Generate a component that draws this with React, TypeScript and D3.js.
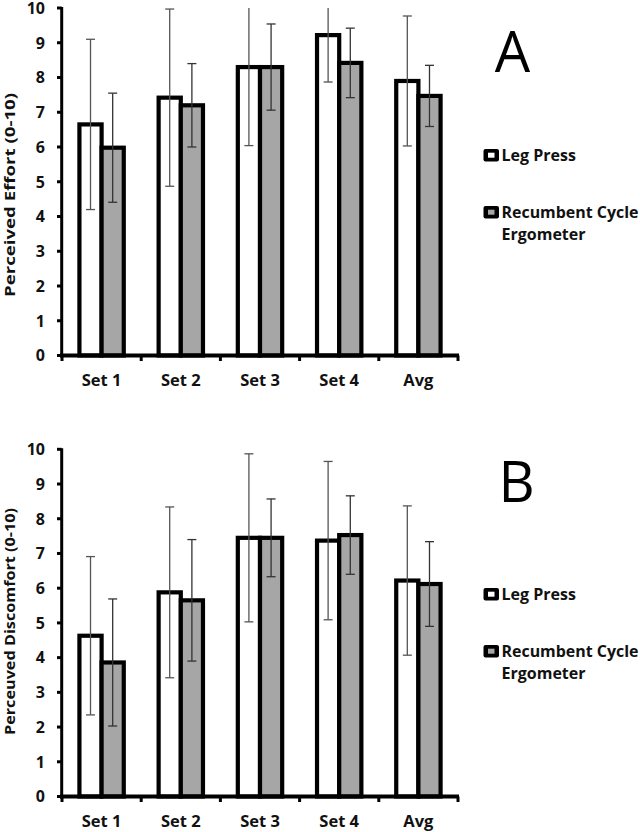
import React from "react";
import * as d3 from "d3";

const categories = ["Set 1", "Set 2", "Set 3", "Set 4", "Avg"];
const seriesNames = ["Leg Press", "Recumbent Cycle", "Ergometer"];
const yTicks = [0, 1, 2, 3, 4, 5, 6, 7, 8, 9, 10];

// Panel A: Perceived Effort
const effortLeg = [6.65, 7.42, 8.3, 9.22, 7.9];
const effortLegSD = [2.45, 2.55, 2.26, 1.35, 1.87];
const effortCycle = [5.98, 7.2, 8.3, 8.42, 7.47];
const effortCycleSD = [1.57, 1.2, 1.24, 1.0, 0.88];

// Panel B: Perceived Discomfort
const discLeg = [4.63, 5.88, 7.45, 7.37, 6.22];
const discLegSD = [2.28, 2.46, 2.42, 2.28, 2.15];
const discCycle = [3.86, 5.65, 7.45, 7.53, 6.12];
const discCycleSD = [1.83, 1.75, 1.12, 1.13, 1.22];

const FONT = "'Open Sans', 'DejaVu Sans', sans-serif";
const GRAY = "#a6a6a6";

type PanelProps = {
  top: number;
  bottom: number;
  leg: number[];
  legSD: number[];
  cyc: number[];
  cycSD: number[];
  title: string;
  titleCenter: number;
  titleLen: number;
  letter: string;
  letterX: number;
  letterY: number;
  legendY: number;
};

function Panel(p: PanelProps) {
  const x = d3.scaleBand<string>().domain(categories).range([62, 458]).padding(0);
  const y = d3.scaleLinear().domain([0, 10]).range([p.bottom, p.top]);
  const bw = x.bandwidth() * 0.28;
  const series = [
    { vals: p.leg, sds: p.legSD, fill: "#ffffff", off: -1, err: "#555" },
    { vals: p.cyc, sds: p.cycSD, fill: GRAY, off: 0, err: "#333" },
  ];
  const boundaries = d3.range(categories.length + 1).map((i) => 62 + i * x.step());
  return (
    <g>
      {series.map((s, si) =>
        categories.map((c, i) => {
          const cx = (x(c) as number) + x.bandwidth() / 2;
          const bx = cx + s.off * bw;
          return (
            <rect
              key={`b${si}-${i}`}
              x={bx}
              y={y(s.vals[i])}
              width={bw}
              height={y(0) - y(s.vals[i])}
              fill={s.fill}
              stroke="#000"
              strokeWidth={4.2}
            />
          );
        })
      )}
      {series.map((s, si) =>
        categories.map((c, i) => {
          const cx = (x(c) as number) + x.bandwidth() / 2 + s.off * bw + bw / 2;
          const hiV = s.vals[i] + s.sds[i];
          const loV = s.vals[i] - s.sds[i];
          const hi = y(Math.min(10, hiV));
          const lo = y(Math.max(0, loV));
          return (
            <g key={`e${si}-${i}`} stroke={s.err} strokeWidth={1.3}>
              <line x1={cx} x2={cx} y1={hi} y2={lo} />
              {hiV <= 10.02 && <line x1={cx - 4.5} x2={cx + 4.5} y1={hi} y2={hi} />}
              {loV >= 0 && <line x1={cx - 4.5} x2={cx + 4.5} y1={lo} y2={lo} />}
            </g>
          );
        })
      )}
      {/* y axis */}
      <line x1={61.7} x2={61.7} y1={y(10) - 1} y2={y(0) + 2} stroke="#000" strokeWidth={3} />
      {yTicks.map((t) => (
        <g key={`yt${t}`}>
          <line x1={57} x2={61.7} y1={y(t)} y2={y(t)} stroke="#000" strokeWidth={3} />
          <text
            x={45}
            y={y(t)}
            dy="0.36em"
            textAnchor="end"
            fontFamily={FONT}
            fontWeight={700}
            fontSize={16}
            fill="#111"
          >
            {t}
          </text>
        </g>
      ))}
      {/* x axis */}
      <line x1={60} x2={459} y1={y(0)} y2={y(0)} stroke="#000" strokeWidth={4} />
      {boundaries.map((bx, i) => (
        <line key={`xt${i}`} x1={bx} x2={bx} y1={y(0)} y2={y(0) + 5.5} stroke="#000" strokeWidth={3} />
      ))}
      {categories.map((c) => (
        <text
          key={`xl${c}`}
          x={(x(c) as number) + x.bandwidth() / 2}
          y={y(0) + 30.5}
          textAnchor="middle"
          fontFamily={FONT}
          fontWeight={700}
          fontSize={16.5}
          fill="#111"
        >
          {c}
        </text>
      ))}
      {/* y title */}
      <text
        transform={`translate(15,${p.titleCenter}) rotate(-90)`}
        textAnchor="middle"
        fontFamily={FONT}
        fontWeight={700}
        fontSize={14.5}
        fill="#111"
        textLength={p.titleLen}
        lengthAdjust="spacingAndGlyphs"
      >
        {p.title}
      </text>
      {/* panel letter */}
      <text
        x={p.letterX}
        y={p.letterY}
        textAnchor="middle"
        fontFamily={FONT}
        fontWeight={400}
        fontSize={56}
        fill="#000"
      >
        {p.letter}
      </text>
      {/* legend */}
      <g>
        <rect x={483.5} y={p.legendY - 12} width={15.5} height={12.5} rx={2} fill="#000" />
        <rect x={488} y={p.legendY - 8.3} width={6.5} height={5} fill="#fff" />
        <text x={501.5} y={p.legendY} fontFamily={FONT} fontWeight={700} fontSize={16} fill="#111">
          {seriesNames[0]}
        </text>
        <rect x={483.5} y={p.legendY + 45} width={15.5} height={12.5} rx={2} fill="#000" />
        <rect x={488} y={p.legendY + 48.7} width={6.5} height={5} fill={GRAY} />
        <text
          x={501.5}
          y={p.legendY + 57}
          fontFamily={FONT}
          fontWeight={700}
          fontSize={16}
          fill="#111"
          textLength={137}
          lengthAdjust="spacingAndGlyphs"
        >
          {seriesNames[1]}
        </text>
        <text x={501.5} y={p.legendY + 79} fontFamily={FONT} fontWeight={700} fontSize={16} fill="#111">
          {seriesNames[2]}
        </text>
      </g>
    </g>
  );
}

export default function App() {
  return (
    <svg
      width={640}
      height={832}
      style={{ position: "absolute", left: 0, top: 0, background: "#fff" }}
    >
      <rect x={0} y={0} width={640} height={832} fill="#fff" />
      <Panel
        top={8}
        bottom={355.5}
        leg={effortLeg}
        legSD={effortLegSD}
        cyc={effortCycle}
        cycSD={effortCycleSD}
        title="Perceived Effort (0-10)"
        titleCenter={195}
        titleLen={204}
        letter="A"
        letterX={512.5}
        letterY={72}
        legendY={161}
      />
      <Panel
        top={449.3}
        bottom={796.5}
        leg={discLeg}
        legSD={discLegSD}
        cyc={discCycle}
        cycSD={discCycleSD}
        title="Perceuved Discomfort (0-10)"
        titleCenter={621.5}
        titleLen={227}
        letter="B"
        letterX={516.5}
        letterY={502}
        legendY={600}
      />
    </svg>
  );
}
